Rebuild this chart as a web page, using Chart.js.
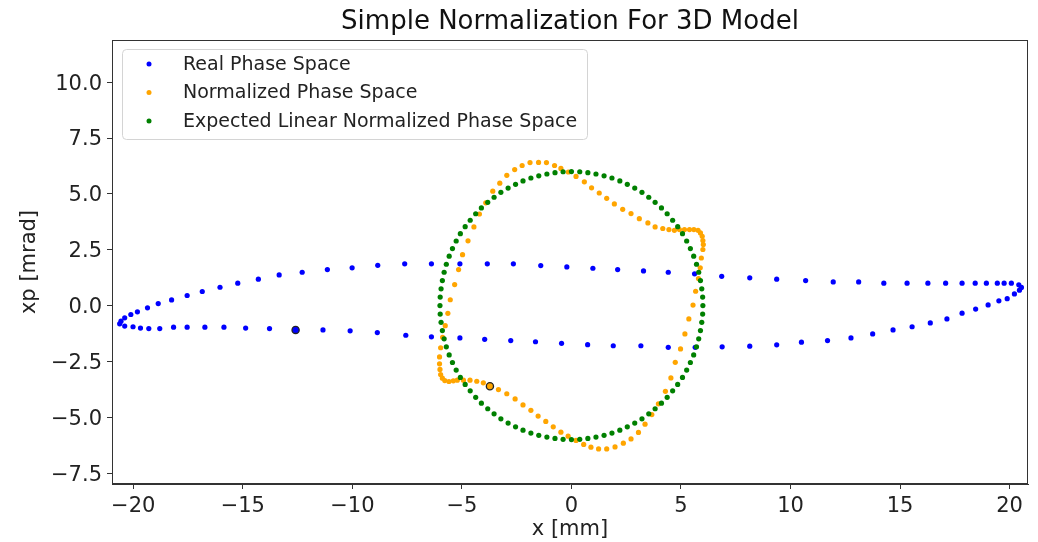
<!DOCTYPE html>
<html>
<head>
<meta charset="utf-8">
<title>Simple Normalization For 3D Model</title>
<script src="https://cdn.jsdelivr.net/npm/chart.js@4.4.1/dist/chart.umd.min.js"></script>
<style>
  body { margin: 0; background: #fff; }
  #wrap { width: 1038px; height: 542px; }
</style>
</head>
<body>
<div id="wrap"><canvas id="grafico" width="1038" height="542"></canvas></div>
<script>
// ---- datos ----
const titulo = "Simple Normalization For 3D Model";
const etiquetas = ["Real Phase Space", "Normalized Phase Space", "Expected Linear Normalized Phase Space"];
const colores = ["#0000ff", "#ffa500", "#008000"];

const xTicks = [-20, -15, -10, -5, 0, 5, 10, 15, 20];
const yTicks = [-7.5, -5.0, -2.5, 0.0, 2.5, 5.0, 7.5, 10.0];

// espacio de fase real (elipse)
const realX = [-20.62,-20.56,-20.39,-20.11,-19.81,-19.35,-18.86,-18.25,-17.54,-16.85,-16.04,-15.23,-14.29,-13.34,-12.29,-11.14,-10.01,-8.84,-7.61,-6.39,-5.09,-3.84,-2.65,-1.40,-0.21,0.98,2.11,3.29,4.42,5.62,6.86,8.14,9.37,10.69,11.95,13.11,14.26,15.32,16.27,17.08,17.83,18.43,18.94,19.44,19.75,20.08,20.42,20.54,
  20.45,20.22,19.89,19.51,19.02,18.45,17.83,17.14,16.38,15.55,14.68,13.75,12.76,11.69,10.50,9.37,8.14,6.88,5.65,4.42,3.17,1.91,0.74,-0.45,-1.64,-2.77,-3.96,-5.09,-6.39,-7.56,-8.86,-10.10,-11.34,-12.59,-13.78,-14.87,-15.86,-16.73,-17.54,-18.16,-18.79,-19.29,-19.67,-20.01,-20.39];
const realY = [-0.82,-0.70,-0.55,-0.40,-0.28,-0.10,0.09,0.25,0.45,0.63,0.82,1.00,1.18,1.37,1.49,1.61,1.69,1.80,1.87,1.87,1.87,1.87,1.87,1.79,1.73,1.67,1.61,1.55,1.49,1.42,1.31,1.24,1.18,1.12,1.06,1.06,1.00,1.00,1.00,1.00,1.00,1.00,1.00,1.00,1.00,1.00,0.93,0.81,
  0.69,0.52,0.31,0.21,0.03,-0.16,-0.34,-0.60,-0.78,-0.95,-1.09,-1.27,-1.45,-1.57,-1.64,-1.76,-1.82,-1.85,-1.87,-1.87,-1.80,-1.80,-1.75,-1.69,-1.62,-1.57,-1.51,-1.45,-1.40,-1.33,-1.21,-1.13,-1.09,-1.09,-1.03,-1.01,-0.97,-0.97,-0.97,-0.97,-1.03,-1.03,-1.01,-0.95,-0.92];

// espacio de fase normalizado
const normX = [5.55,5.67,5.80,5.88,5.93,6.00,6.02,6.00,5.97,5.89,5.78,5.59,5.39,5.16,4.93,4.70,4.45,4.17,3.82,3.49,3.10,2.72,2.34,1.96,1.61,1.27,0.92,0.59,0.21,-0.14,-0.48,-0.77,-1.14,-1.50,-1.89,-2.25,-2.59,-2.95,-3.27,-3.59,-3.91,-4.20,-4.45,-4.72,-4.97,-5.15,-5.33,-5.53,
  -5.64,-5.76,-5.88,-5.97,-6.02,-6.02,-6.00,-5.97,-5.89,-5.78,-5.59,-5.39,-5.21,-4.93,-4.63,-4.32,-4.02,-3.72,-3.33,-2.95,-2.57,-2.21,-1.85,-1.52,-1.17,-0.83,-0.48,-0.15,0.21,0.56,0.89,1.24,1.61,1.99,2.37,2.72,3.06,3.36,3.67,3.97,4.29,4.54,4.74,4.98,5.18,5.36];
const normY = [0.02,0.64,1.21,1.69,2.13,2.51,2.73,2.91,3.10,3.25,3.37,3.40,3.40,3.40,3.40,3.37,3.40,3.45,3.52,3.70,3.89,4.12,4.31,4.55,4.80,5.04,5.27,5.54,5.78,5.98,6.14,6.27,6.40,6.41,6.40,6.27,6.09,5.83,5.48,5.12,4.60,4.10,3.52,2.90,2.28,1.61,0.94,0.26,
  -0.35,-0.90,-1.42,-1.89,-2.30,-2.61,-2.86,-3.09,-3.25,-3.36,-3.40,-3.37,-3.34,-3.34,-3.34,-3.39,-3.46,-3.61,-3.76,-3.95,-4.18,-4.45,-4.69,-4.95,-5.19,-5.43,-5.67,-5.85,-6.04,-6.22,-6.34,-6.42,-6.42,-6.33,-6.16,-5.97,-5.68,-5.31,-4.88,-4.40,-3.84,-3.24,-2.54,-1.94,-1.27,-0.60];

// espacio normalizado lineal esperado (circulo de radio 6)
const linX = [6.00,5.99,5.95,5.89,5.81,5.71,5.58,5.43,5.26,5.07,4.85,4.62,4.37,4.11,3.82,3.53,3.22,2.89,2.55,2.21,1.85,1.49,1.12,0.75,0.38,
  0.00,-0.38,-0.75,-1.12,-1.49,-1.85,-2.21,-2.55,-2.89,-3.22,-3.53,-3.82,-4.11,-4.37,-4.62,-4.85,-5.07,-5.26,-5.43,-5.58,-5.71,-5.81,-5.89,-5.95,-5.99,
  -6.00,-5.99,-5.95,-5.89,-5.81,-5.71,-5.58,-5.43,-5.26,-5.07,-4.85,-4.62,-4.37,-4.11,-3.82,-3.53,-3.22,-2.89,-2.55,-2.21,-1.85,-1.49,-1.12,-0.75,-0.38,
  0.00,0.38,0.75,1.12,1.49,1.85,2.21,2.55,2.89,3.22,3.53,3.82,4.11,4.37,4.62,4.85,5.07,5.26,5.43,5.58,5.71,5.81,5.89,5.95,5.99];
const linY = [0.00,0.38,0.75,1.12,1.49,1.85,2.21,2.55,2.89,3.22,3.53,3.82,4.11,4.37,4.62,4.85,5.07,5.26,5.43,5.58,5.71,5.81,5.89,5.95,5.99,
  6.00,5.99,5.95,5.89,5.81,5.71,5.58,5.43,5.26,5.07,4.85,4.62,4.37,4.11,3.82,3.53,3.22,2.89,2.55,2.21,1.85,1.49,1.12,0.75,0.38,
  0.00,-0.38,-0.75,-1.12,-1.49,-1.85,-2.21,-2.55,-2.89,-3.22,-3.53,-3.82,-4.11,-4.37,-4.62,-4.85,-5.07,-5.26,-5.43,-5.58,-5.71,-5.81,-5.89,-5.95,-5.99,
  -6.00,-5.99,-5.95,-5.89,-5.81,-5.71,-5.58,-5.43,-5.26,-5.07,-4.85,-4.62,-4.37,-4.11,-3.82,-3.53,-3.22,-2.89,-2.55,-2.21,-1.85,-1.49,-1.12,-0.75,-0.38];

// puntos iniciales marcados con borde negro
const inicioReal = [-12.59, -1.09];
const inicioNorm = [-3.72, -3.61];

const aPuntos = (xs, ys) => xs.map((x, i) => ({ x: x, y: ys[i] }));
const menos = s => s.replace('-', '\u2212');

// titulo, marco y leyenda al estilo matplotlib
const decorado = {
  id: 'decorado',
  afterDraw(chart) {
    const { ctx, chartArea: a } = chart;
    ctx.save();
    ctx.strokeStyle = '#333';
    ctx.lineWidth = 1;
    ctx.strokeRect(a.left + 0.5, a.top + 0.5, a.right - a.left - 1, a.bottom - a.top - 1);

    ctx.fillStyle = '#111';
    ctx.font = '26px "DejaVu Sans"';
    ctx.textAlign = 'center';
    ctx.textBaseline = 'alphabetic';
    ctx.fillText(titulo, (a.left + a.right) / 2, 29);

    // leyenda
    ctx.beginPath();
    ctx.roundRect(122.5, 49.5, 465, 90, 4);
    ctx.fillStyle = 'rgba(255,255,255,0.8)';
    ctx.fill();
    ctx.strokeStyle = '#d4d4d4';
    ctx.stroke();
    ctx.font = '19px "DejaVu Sans"';
    ctx.textAlign = 'left';
    ctx.textBaseline = 'middle';
    etiquetas.forEach((t, i) => {
      const y = 64 + i * 28.5;
      ctx.beginPath();
      ctx.arc(149, y, 2.5, 0, Math.PI * 2);
      ctx.fillStyle = colores[i];
      ctx.fill();
      ctx.fillStyle = '#222';
      ctx.fillText(t, 183, y + 1);
    });
    ctx.restore();
  }
};

document.addEventListener("DOMContentLoaded", () => {
  Chart.defaults.font.family = '"DejaVu Sans"';
  Chart.defaults.color = '#222';

  const punto = (col, orden, datos, lbl) => ({
    label: lbl, data: datos, backgroundColor: col, borderColor: col,
    pointRadius: 2.6, pointBorderWidth: 0, pointHoverRadius: 2.6, order: orden
  });

  new Chart(document.getElementById('grafico'), {
    type: 'scatter',
    data: {
      datasets: [
        punto(colores[0], 4, aPuntos(realX, realY), etiquetas[0]),
        punto(colores[1], 3, aPuntos(normX, normY), etiquetas[1]),
        punto(colores[2], 2, aPuntos(linX, linY), etiquetas[2]),
        { label: 'inicio', data: [{ x: inicioReal[0], y: inicioReal[1] }, { x: inicioNorm[0], y: inicioNorm[1] }],
          backgroundColor: [colores[0], colores[1]], borderColor: '#222', pointRadius: 3.6, pointBorderWidth: 1.3, order: 1 }
      ]
    },
    options: {
      responsive: false,
      animation: false,
      layout: { padding: { left: 0, right: 10, top: 40, bottom: 0 } },
      plugins: { legend: { display: false }, tooltip: { enabled: false }, title: { display: false } },
      scales: {
        x: {
          type: 'linear', min: -20.97, max: 20.84,
          afterBuildTicks: s => { s.ticks = xTicks.map(v => ({ value: v })); },
          afterFit: s => { s.height = 58; },
          ticks: { font: { size: 21 }, padding: 5, maxRotation: 0, callback: v => menos(String(v)) },
          grid: { drawOnChartArea: false, tickLength: 5, color: '#333' },
          border: { color: '#333' },
          title: { display: true, text: 'x [mm]', font: { size: 21 }, padding: { bottom: 0 } }
        },
        y: {
          type: 'linear', min: -7.99, max: 11.89,
          afterBuildTicks: s => { s.ticks = yTicks.map(v => ({ value: v })); },
          afterFit: s => { s.width = 112; },
          ticks: { font: { size: 21 }, padding: 5, labelOffset: 2, callback: v => menos(v.toFixed(1)) },
          grid: { drawOnChartArea: false, tickLength: 5, color: '#333' },
          border: { color: '#333' },
          title: { display: true, text: 'xp [mrad]', font: { size: 21 }, padding: { top: 17 } }
        }
      }
    },
    plugins: [decorado]
  });
});
</script>
</body>
</html>
